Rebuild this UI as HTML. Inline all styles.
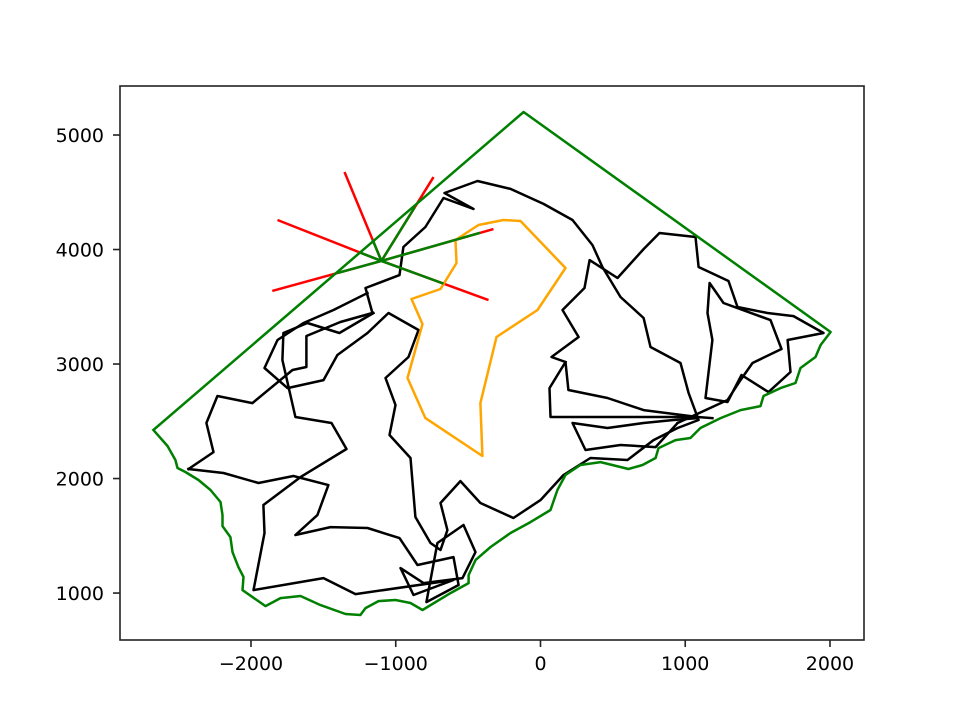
<!DOCTYPE html>
<html><head><meta charset="utf-8"><style>
html,body{margin:0;padding:0;background:#fff;}
svg{display:block;font-family:"DejaVu Sans","Liberation Sans",sans-serif;}
</style></head><body>
<svg id="chart" width="960" height="720" viewBox="0 0 960 720">
<rect x="0" y="0" width="960" height="720" fill="#fff"/>
<g id="plot"></g>
<g id="axes"></g>
</svg>
<script>
// ---- data ----
const xTicks = [-2000, -1000, 0, 1000, 2000];
const yTicks = [1000, 2000, 3000, 4000, 5000];
const xTickLabels = ["\u22122000", "\u22121000", "0", "1000", "2000"];
const yTickLabels = ["1000", "2000", "3000", "4000", "5000"];

const hullX = [-2674,-117,2004,1935,1900,1796,1762,1658,1541,1520,1382,1244,1105,1036,933,815,795,705,608,415,276,173,117,69,-69,-207,-345,-449,-497,-497,-622,-815,-898,-1002,-1119,-1209,-1244,-1347,-1520,-1658,-1796,-1900,-2059,-2052,-2087,-2128,-2142,-2197,-2197,-2211,-2280,-2363,-2453,-2508,-2522,-2577,-2674];
const hullY = [2424,5201,3280,3166,3061,2965,2834,2790,2721,2633,2598,2528,2441,2354,2336,2266,2179,2118,2083,2144,2118,2031,1900,1725,1620,1524,1402,1288,1157,1087,1000,852,913,939,930,869,808,817,895,974,956,886,1026,1140,1227,1358,1489,1585,1681,1795,1900,1987,2057,2092,2162,2284,2424];

const centerX = -1099;
const centerY = 3900;
const rayEndX = [-1354, -739, -1817, -359, -1853, -325];
const rayEndY = [4677, 4633, 4258, 3559, 3638, 4179];
const greenFrac = [0.24, 0.64, 0.2, 0.58, 0.4, 0.88];

const orangeX = [-587,-428,-256,-138,173,-21,-304,-415,-401,-795,-919,-815,-891,-691,-580,-587];
const orangeY = [4083,4214,4258,4249,3839,3472,3236,2659,2197,2528,2878,3349,3568,3655,3882,4083];

const pathAX = [-2432,-2259,-2308,-2232,-1990,-1713,-1617,-1617,-1382,-1161,-1209,-974,-947,-795,-670,-463,-663,-435,-207,21,221,359,428,553,712,760,967,1023,1092,947,781,601,345,159,0,-187,-415,-553,-691,-643,-691,-760,-864,-898,-1043,-1002,-1071,-912,-843,-1050,-1195,-1403,-1499,-1748,-1907,-1817,-1637,-1430,-1195];
const pathAY = [2083,2231,2485,2721,2659,2948,2974,3245,3367,3446,3664,3777,4022,4197,4450,4354,4494,4598,4529,4398,4258,4039,3847,3585,3402,3149,3009,2747,2511,2441,2336,2162,2179,2031,1812,1655,1786,1978,1786,1550,1376,1437,1664,2179,2380,2642,2878,3061,3297,3446,3271,3079,2860,2790,2965,3210,3358,3472,3620];

const pathB1X = [-2432,-2190,-1948,-1707,-1465,-1541,-1693,-1451,-1195,-974,-850,-601,-566,-788,-712,-532,-449,-539,-808,-967,-877,-601,-1278,-1499,-1983,-1907,-1914,-1658,-1340,-1444,-1693,-1783,-1776,-1610,-1389,-1154];
const pathB1Y = [2083,2048,1961,2022,1943,1681,1507,1576,1568,1480,1245,1314,1070,921,1437,1594,1358,1131,1087,1218,983,1114,991,1131,1026,1524,1769,2013,2258,2485,2537,3035,3271,3358,3271,3446];

const pathB2X = [1188,1085,712,463,193,173,62,69,1085];
const pathB2Y = [2528,2537,2598,2703,2773,3018,2790,2537,2537];

const pathB3X = [1085,919,712,463,221,311,553,795,947];
const pathB3Y = [2528,2511,2485,2441,2485,2249,2293,2275,2485];

const pathB4X = [173,76,263,152,304,339,532,712,822,1071,1092,1299,1361,1568,1748,1955,1707,1727,1575,1389,1292,1140,1188,1154,1168,1264,1589,1665,1465,1382,1292,947];
const pathB4Y = [3018,3061,3236,3472,3664,3908,3751,4004,4144,4109,3847,3725,3498,3446,3419,3271,3210,2930,2755,2904,2668,2703,3210,3446,3708,3533,3384,3131,3009,2860,2686,2485];

// ---- axes ----
const L = 120, R = 864, T = 86, B = 640;
const xMin = -2905, xMax = 2235, yMin = 590, yMax = 5428;
const sx = v => L + (v - xMin) / (xMax - xMin) * (R - L);
const sy = v => B - (v - yMin) / (yMax - yMin) * (B - T);
const NS = "http://www.w3.org/2000/svg";
const plot = document.getElementById('plot');
const axes = document.getElementById('axes');
const LW = 2.5;

function mk(tag, attrs, parent) {
  const e = document.createElementNS(NS, tag);
  for (const k in attrs) e.setAttribute(k, attrs[k]);
  parent.appendChild(e);
  return e;
}
function poly(xs, ys, color, name) {
  const pts = xs.map((x, i) => sx(x).toFixed(1) + "," + sy(ys[i]).toFixed(1)).join(" ");
  const p = mk('polyline', {points: pts, fill: 'none', stroke: color, 'stroke-width': LW, 'stroke-linejoin': 'round', 'stroke-linecap': 'square'}, plot);
  
  
  return p;
}

rayEndX.forEach((ex, i) => {
  const l = mk('line', {x1: sx(centerX), y1: sy(centerY), x2: sx(ex), y2: sy(rayEndY[i]), stroke: '#ff0000', 'stroke-width': LW}, plot);
  
  
});
poly(pathAX, pathAY, '#000', 'black-path-a');
poly(pathB1X, pathB1Y, '#000', 'black-path-b1');
poly(pathB2X, pathB2Y, '#000', 'black-path-b2');
poly(pathB3X, pathB3Y, '#000', 'black-path-b3');
poly(pathB4X, pathB4Y, '#000', 'black-path-b4');
poly(orangeX, orangeY, '#ffa500', 'orange-loop');
poly(hullX, hullY, '#008000', 'green-hull');
rayEndX.forEach((ex, i) => {
  const f = greenFrac[i];
  const gx = centerX + (ex - centerX) * f, gy = centerY + (rayEndY[i] - centerY) * f;
  const l = mk('line', {x1: sx(centerX), y1: sy(centerY), x2: sx(gx), y2: sy(gy), stroke: '#008000', 'stroke-width': LW}, plot);
  
  
});

const fr = mk('rect', {x: L, y: T, width: R - L, height: B - T, fill: 'none', stroke: '#222', 'stroke-width': 1.6}, axes);



xTicks.forEach((v, i) => {
  const x = sx(v);
  const t = mk('line', {x1: x, y1: B, x2: x, y2: B + 7, stroke: '#222', 'stroke-width': 1.6}, axes);
  
  
  const tx = mk('text', {x: x, y: 670, 'text-anchor': 'middle', 'font-size': 19, fill: '#000'}, axes);
  tx.textContent = xTickLabels[i];
  
  
});
yTicks.forEach((v, i) => {
  const y = sy(v);
  const t = mk('line', {x1: L - 7, y1: y, x2: L, y2: y, stroke: '#222', 'stroke-width': 1.6}, axes);
  
  
  const tx = mk('text', {x: 104, y: y + 7, 'text-anchor': 'end', 'font-size': 19, fill: '#000'}, axes);
  tx.textContent = yTickLabels[i];
  
  
});
</script>
</body></html>
